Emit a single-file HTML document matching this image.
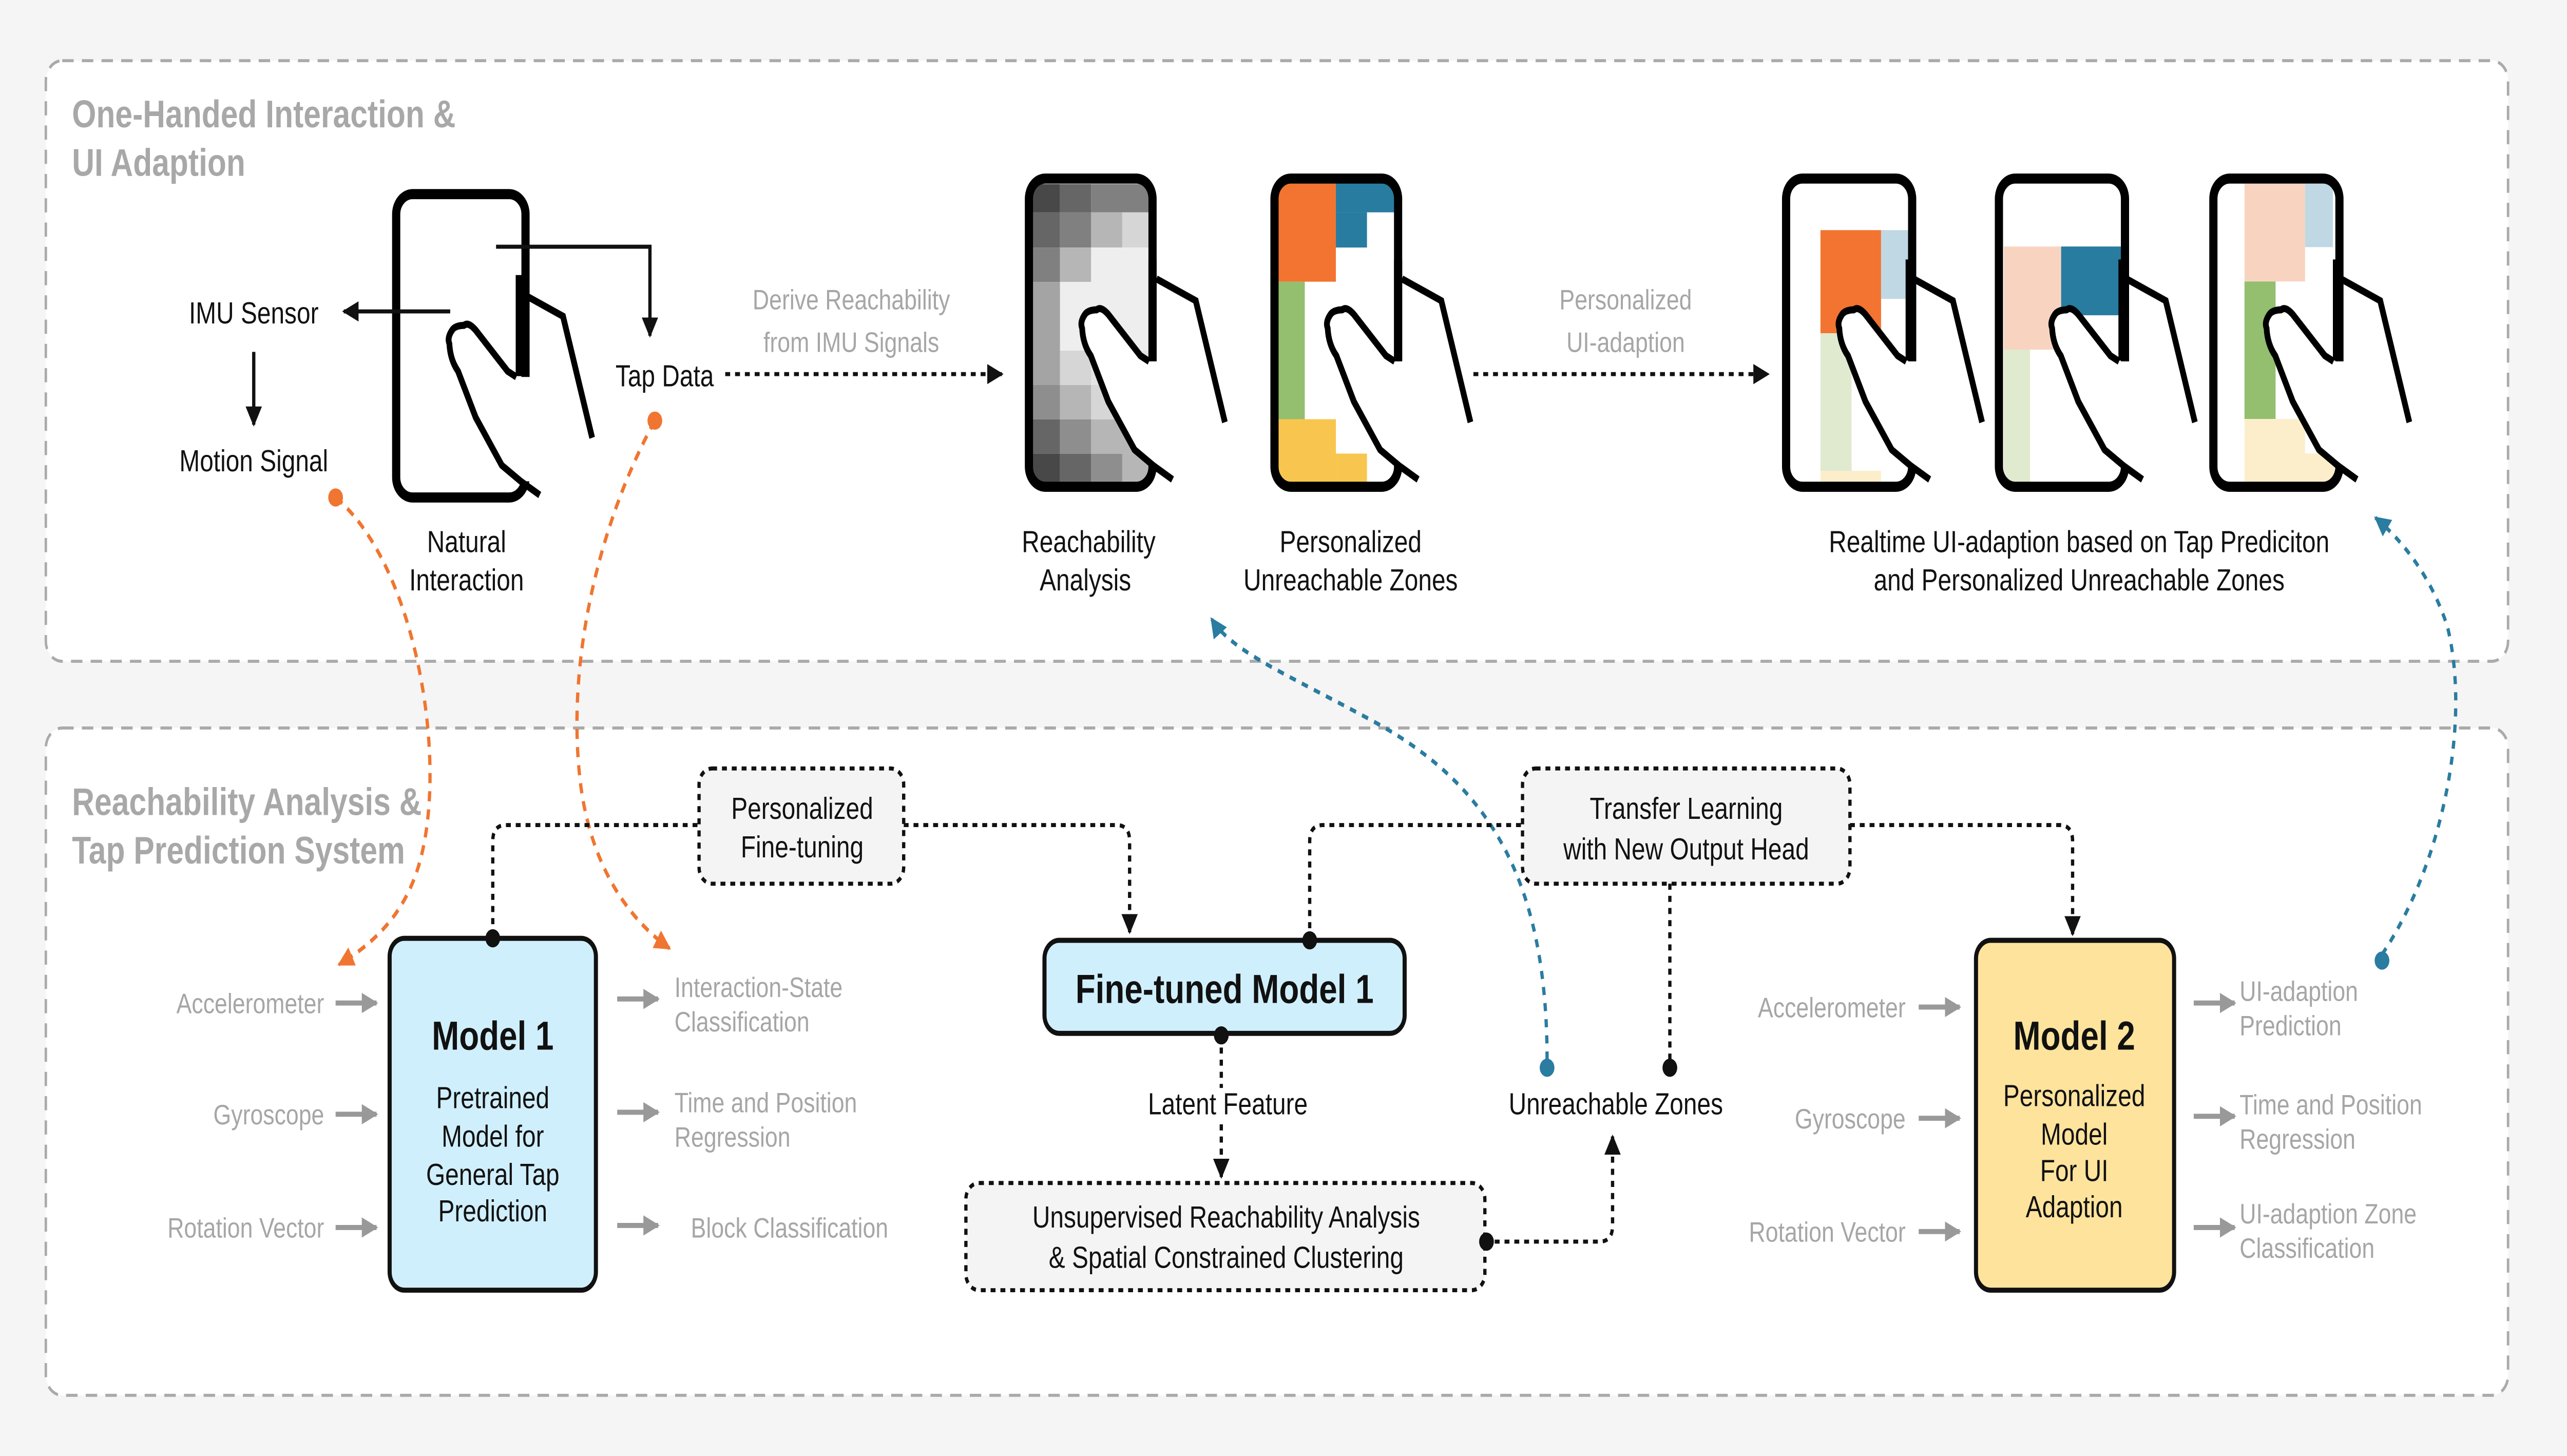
<!DOCTYPE html>
<html><head><meta charset="utf-8">
<style>
html,body{margin:0;padding:0;background:#f5f5f5;width:100%;height:100%;overflow:hidden;}
svg{display:block;width:100vw;height:100vh;position:fixed;left:0;top:0;}
text{font-family:"Liberation Sans",sans-serif;}
.b{fill:#111;font-size:15px;}
.g{fill:#a6a6a6;font-size:14px;}
.t{fill:#a8a8a8;font-size:19px;font-weight:bold;}
</style></head><body>
<svg viewBox="0 0 1568 720" preserveAspectRatio="none" xmlns="http://www.w3.org/2000/svg">
<defs>
<marker id="ab" viewBox="0 0 10 10" refX="9" refY="5" markerWidth="5" markerHeight="5" orient="auto"><path d="M0,0L10,5L0,10z" fill="#111"/></marker>
<marker id="ag" viewBox="0 0 10 10" refX="9" refY="5" markerWidth="4" markerHeight="5" orient="auto"><path d="M0,0L10,5L0,10z" fill="#999"/></marker>
<marker id="ao" viewBox="0 0 10 10" refX="9" refY="5" markerWidth="5" markerHeight="5" orient="auto"><path d="M0,0L10,5L0,10z" fill="#f07530"/></marker>
<marker id="abl" viewBox="0 0 10 10" refX="9" refY="5" markerWidth="5" markerHeight="5" orient="auto"><path d="M0,0L10,5L0,10z" fill="#2a7ca0"/></marker>
<g id="hand">
<path d="M73.4,90.4 L68.1,87.6 L48.5,67.2 Q44,63 41.4,64.9 Q36,65 34.2,67.2 Q31,71 32.5,74 Q33,82 37.8,87.6 L48.5,110.3 L64.5,134.1 L76.1,142 L82,142 L82,90.4 Z" fill="#fff"/>
<path d="M75.5,40 L75.5,90" stroke="#000" stroke-width="5" fill="none"/>
<path d="M73.4,90.4 L68.1,87.6 L48.5,67.2 Q44,63 41.4,64.9 Q36,65 34.2,67.2 Q31,71 32.5,74 Q33,82 37.8,87.6 L48.5,110.3 L64.5,134.1 L76.1,142 L87.7,148.8" stroke="#000" stroke-width="3.5" fill="none" stroke-linejoin="round"/>
<path d="M77.9,49.6 L101.9,60.4 L119.7,120.5" stroke="#000" stroke-width="3.5" fill="none"/>
</g>
<clipPath id="scr"><rect x="0" y="0" width="75.5" height="152.4" rx="10"/></clipPath>
</defs>
<rect x="0" y="0" width="1568" height="720" fill="#f5f5f5"/>
<rect x="28" y="30" width="1504" height="297" rx="10" fill="#ffffff" stroke="#aaa" stroke-width="1.5" stroke-dasharray="7 5"/>
<rect x="28" y="360" width="1504" height="330" rx="10" fill="#ffffff" stroke="#aaa" stroke-width="1.5" stroke-dasharray="7 5"/>
<text class="t" x="44" y="63">One-Handed Interaction &amp;</text>
<text class="t" x="44" y="87">UI Adaption</text>
<text class="t" x="44" y="403">Reachability Analysis &amp;</text>
<text class="t" x="44" y="427">Tap Prediction System</text>

<g transform="translate(242,96)">
<rect x="0" y="0" width="79" height="150" rx="10" fill="#fff" stroke="#000" stroke-width="5"/>
<use href="#hand"/>
</g>
<path d="M275,154 L210,154" stroke="#111" stroke-width="2" marker-end="url(#ab)"/>
<text class="b" x="155" y="160" text-anchor="middle">IMU Sensor</text>
<path d="M155,174 L155,210" stroke="#111" stroke-width="2" marker-end="url(#ab)"/>
<text class="b" x="155" y="233" text-anchor="middle">Motion Signal</text>
<path d="M303,122 L397,122 L397,166" stroke="#111" stroke-width="2" fill="none" marker-end="url(#ab)"/>
<text class="b" x="406" y="191" text-anchor="middle">Tap Data</text>
<text class="b" x="285" y="273" text-anchor="middle">Natural</text>
<text class="b" x="285" y="292" text-anchor="middle">Interaction</text>

<path d="M443,185 L612,185" stroke="#111" stroke-width="2" stroke-dasharray="3 3" marker-end="url(#ab)"/>
<text class="g" x="520" y="153" text-anchor="middle">Derive Reachability</text>
<text class="g" x="520" y="174" text-anchor="middle">from IMU Signals</text>

<g transform="translate(628.5,88.3)">
<g clip-path="url(#scr)">
<g transform="translate(0,2.7)">
<rect x="0" y="0" width="19" height="14" fill="#484848"/><rect x="19" y="0" width="19" height="14" fill="#666"/><rect x="38" y="0" width="40" height="14" fill="#808080"/>
<rect x="0" y="14" width="19" height="17.4" fill="#666"/><rect x="19" y="14" width="19" height="17.4" fill="#808080"/><rect x="38" y="14" width="19" height="17.4" fill="#b6b6b6"/><rect x="57" y="14" width="21" height="17.4" fill="#d6d6d6"/>
<rect x="0" y="31.4" width="19" height="17" fill="#808080"/><rect x="19" y="31.4" width="19" height="17" fill="#b6b6b6"/><rect x="38" y="31.4" width="40" height="17" fill="#eee"/>
<rect x="0" y="48.4" width="19" height="34" fill="#a4a4a4"/><rect x="19" y="48.4" width="59" height="34" fill="#eee"/>
<rect x="0" y="82.4" width="19" height="17" fill="#a4a4a4"/><rect x="19" y="82.4" width="19" height="17" fill="#d6d6d6"/><rect x="38" y="82.4" width="40" height="17" fill="#e4e4e4"/>
<rect x="0" y="99.4" width="19" height="17" fill="#8e8e8e"/><rect x="19" y="99.4" width="19" height="17" fill="#b6b6b6"/><rect x="38" y="99.4" width="40" height="17" fill="#d6d6d6"/>
<rect x="0" y="116.4" width="19" height="17" fill="#666"/><rect x="19" y="116.4" width="19" height="17" fill="#8e8e8e"/><rect x="38" y="116.4" width="40" height="17" fill="#b6b6b6"/>
<rect x="0" y="133.4" width="19" height="20" fill="#484848"/><rect x="19" y="133.4" width="19" height="20" fill="#666"/><rect x="38" y="133.4" width="19" height="20" fill="#8e8e8e"/><rect x="57" y="133.4" width="21" height="20" fill="#b6b6b6"/>
</g></g>
<rect x="0" y="0" width="75.5" height="152.4" rx="10" fill="none" stroke="#000" stroke-width="5"/>
<use href="#hand"/>
</g>

<g transform="translate(778.5,88.3)">
<g clip-path="url(#scr)">
<rect x="0" y="0" width="76" height="153" fill="#fff"/>
<rect x="0" y="0" width="37.5" height="51" fill="#f27430"/>
<rect x="37.5" y="0" width="40" height="16.7" fill="#287ca0"/>
<rect x="37.5" y="16.7" width="19" height="17.4" fill="#287ca0"/>
<rect x="0" y="51" width="18.5" height="68" fill="#93bf6e"/>
<rect x="0" y="119" width="37.5" height="35" fill="#f8c64e"/>
<rect x="37.5" y="136" width="19" height="18" fill="#f8c64e"/>
</g>
<rect x="0" y="0" width="75.5" height="152.4" rx="10" fill="none" stroke="#000" stroke-width="5"/>
<use href="#hand"/>
</g>
<text class="b" x="665" y="273" text-anchor="middle">Reachability</text>
<text class="b" x="663" y="292" text-anchor="middle">Analysis</text>
<text class="b" x="825" y="273" text-anchor="middle">Personalized</text>
<text class="b" x="825" y="292" text-anchor="middle">Unreachable Zones</text>

<path d="M900,185 L1080,185" stroke="#111" stroke-width="2" stroke-dasharray="3 3" marker-end="url(#ab)"/>
<text class="g" x="993" y="153" text-anchor="middle">Personalized</text>
<text class="g" x="993" y="174" text-anchor="middle">UI-adaption</text>

<g transform="translate(1091,88.3)">
<rect x="0" y="0" width="77" height="152.4" rx="10" fill="#fff"/>
<rect x="21" y="25.5" width="37" height="51" fill="#f27430"/>
<rect x="58" y="25.5" width="17" height="34" fill="#bfd8e3"/>
<rect x="21" y="76.5" width="19" height="68" fill="#dfeacf"/>
<rect x="21" y="144.5" width="37" height="6" fill="#fdeecb"/>
<rect x="0" y="0" width="77" height="152.4" rx="10" fill="none" stroke="#000" stroke-width="5"/>
<use href="#hand"/>
</g>
<g transform="translate(1221,88.3)">
<rect x="0" y="0" width="77" height="152.4" rx="10" fill="#fff"/>
<rect x="3" y="33.6" width="35" height="51" fill="#f8d4c0"/>
<rect x="38" y="33.6" width="37" height="34" fill="#287ca0"/>
<rect x="3" y="84.6" width="16" height="66" fill="#dfeacf"/>
<rect x="0" y="0" width="77" height="152.4" rx="10" fill="none" stroke="#000" stroke-width="5"/>
<use href="#hand"/>
</g>
<g transform="translate(1352,88.3)">
<rect x="0" y="0" width="77" height="152.4" rx="10" fill="#fff"/>
<rect x="19" y="2.6" width="37" height="48.3" fill="#f8d4c0"/>
<rect x="56" y="2.6" width="17" height="31.3" fill="#bfd8e3"/>
<rect x="19" y="50.9" width="19" height="68" fill="#93bf6e"/>
<rect x="19" y="118.9" width="55" height="31" fill="#fdeecb"/>
<rect x="56" y="118.9" width="18" height="17" fill="#fff"/>
<rect x="0" y="0" width="77" height="152.4" rx="10" fill="none" stroke="#000" stroke-width="5"/>
<use href="#hand"/>
</g>
<text class="b" x="1270" y="273" text-anchor="middle">Realtime UI-adaption based on Tap Prediciton</text>
<text class="b" x="1270" y="292" text-anchor="middle">and Personalized Unreachable Zones</text>

<path d="M205,246 C255,280 275,380 255,430 C245,455 225,468 207,477" stroke="#f07530" stroke-width="2" fill="none" stroke-dasharray="5 4" marker-end="url(#ao)"/>
<circle cx="205" cy="246" r="4.5" fill="#f07530"/>
<path d="M400,208 C365,260 345,330 355,390 C362,430 385,455 409,469" stroke="#f07530" stroke-width="2" fill="none" stroke-dasharray="5 4" marker-end="url(#ao)"/>
<circle cx="400" cy="208" r="4.5" fill="#f07530"/>
<path d="M945,524 C945,430 905,385 835,355 C785,333 752,322 740,306" stroke="#2a7ca0" stroke-width="2" fill="none" stroke-dasharray="4 4" marker-end="url(#abl)"/>
<circle cx="945" cy="528" r="4.5" fill="#2a7ca0"/>
<path d="M1455,472 C1490,430 1510,360 1495,310 C1485,285 1468,268 1451,256" stroke="#2a7ca0" stroke-width="2" fill="none" stroke-dasharray="4 4" marker-end="url(#abl)"/>
<circle cx="1455" cy="475" r="4.5" fill="#2a7ca0"/>

<rect x="238" y="464" width="126" height="174" rx="9" fill="#d0effc" stroke="#111" stroke-width="2.5"/>
<text x="301" y="519" text-anchor="middle" font-size="20" font-weight="bold" fill="#111">Model 1</text>
<text class="b" x="301" y="548" text-anchor="middle">Pretrained</text>
<text class="b" x="301" y="567" text-anchor="middle">Model for</text>
<text class="b" x="301" y="586" text-anchor="middle">General Tap</text>
<text class="b" x="301" y="604" text-anchor="middle">Prediction</text>
<text class="g" x="198" y="501" text-anchor="end">Accelerometer</text>
<text class="g" x="198" y="556" text-anchor="end">Gyroscope</text>
<text class="g" x="198" y="612" text-anchor="end">Rotation Vector</text>
<path d="M205,496L230,496" stroke="#999" stroke-width="2.5" marker-end="url(#ag)"/>
<path d="M205,551L230,551" stroke="#999" stroke-width="2.5" marker-end="url(#ag)"/>
<path d="M205,607L230,607" stroke="#999" stroke-width="2.5" marker-end="url(#ag)"/>
<path d="M377,494L402,494" stroke="#999" stroke-width="2.5" marker-end="url(#ag)"/>
<path d="M377,550L402,550" stroke="#999" stroke-width="2.5" marker-end="url(#ag)"/>
<path d="M377,606L402,606" stroke="#999" stroke-width="2.5" marker-end="url(#ag)"/>
<text class="g" x="412" y="493">Interaction-State</text>
<text class="g" x="412" y="510">Classification</text>
<text class="g" x="412" y="550">Time and Position</text>
<text class="g" x="412" y="567">Regression</text>
<text class="g" x="422" y="612">Block Classification</text>

<path d="M301,463 L301,416 Q301,408 309,408 L427,408" stroke="#111" stroke-width="2" fill="none" stroke-dasharray="3 3"/>
<path d="M552,408 L682,408 Q690,408 690,416 L690,461" stroke="#111" stroke-width="2" fill="none" stroke-dasharray="3 3" marker-end="url(#ab)"/>
<circle cx="301" cy="464" r="4.5" fill="#111"/>
<rect x="427" y="380" width="125" height="57" rx="8" fill="#f4f4f4" stroke="#111" stroke-width="2" stroke-dasharray="3 3"/>
<text class="b" x="490" y="405" text-anchor="middle">Personalized</text>
<text class="b" x="490" y="424" text-anchor="middle">Fine-tuning</text>

<rect x="638" y="465" width="220" height="46" rx="9" fill="#d0effc" stroke="#111" stroke-width="2.5"/>
<text x="748" y="496" text-anchor="middle" font-size="20" font-weight="bold" fill="#111">Fine-tuned Model 1</text>
<path d="M800,465 L800,416 Q800,408 808,408 L930,408" stroke="#111" stroke-width="2" fill="none" stroke-dasharray="3 3"/>
<circle cx="800" cy="465" r="4.5" fill="#111"/>
<path d="M1130,408 L1258,408 Q1266,408 1266,416 L1266,462" stroke="#111" stroke-width="2" fill="none" stroke-dasharray="3 3" marker-end="url(#ab)"/>
<rect x="930" y="380" width="200" height="57" rx="8" fill="#f4f4f4" stroke="#111" stroke-width="2" stroke-dasharray="3 3"/>
<text class="b" x="1030" y="405" text-anchor="middle">Transfer Learning</text>
<text class="b" x="1030" y="425" text-anchor="middle">with New Output Head</text>
<path d="M1020,437 L1020,526" stroke="#111" stroke-width="2" stroke-dasharray="3 3"/>
<circle cx="1020" cy="528" r="4.5" fill="#111"/>
<text class="b" x="987" y="551" text-anchor="middle">Unreachable Zones</text>

<path d="M746,512 L746,538 M746,556 L746,582" stroke="#111" stroke-width="2" stroke-dasharray="3 3" marker-end="url(#ab)"/>
<circle cx="746" cy="512" r="4.5" fill="#111"/>
<text class="b" x="750" y="551" text-anchor="middle">Latent Feature</text>
<rect x="590" y="585" width="317" height="53" rx="8" fill="#f4f4f4" stroke="#111" stroke-width="2" stroke-dasharray="3 3"/>
<text class="b" x="749" y="607" text-anchor="middle">Unsupervised Reachability Analysis</text>
<text class="b" x="749" y="627" text-anchor="middle">&amp; Spatial Constrained Clustering</text>
<path d="M907,614 L977,614 Q985,614 985,606 L985,562" stroke="#111" stroke-width="2" fill="none" stroke-dasharray="3 3" marker-end="url(#ab)"/>
<circle cx="908" cy="614" r="4.5" fill="#111"/>

<rect x="1207" y="465" width="121" height="173" rx="9" fill="#fde39c" stroke="#111" stroke-width="2.5"/>
<text x="1267" y="519" text-anchor="middle" font-size="20" font-weight="bold" fill="#111">Model 2</text>
<text class="b" x="1267" y="547" text-anchor="middle">Personalized</text>
<text class="b" x="1267" y="566" text-anchor="middle">Model</text>
<text class="b" x="1267" y="584" text-anchor="middle">For UI</text>
<text class="b" x="1267" y="602" text-anchor="middle">Adaption</text>
<text class="g" x="1164" y="503" text-anchor="end">Accelerometer</text>
<text class="g" x="1164" y="558" text-anchor="end">Gyroscope</text>
<text class="g" x="1164" y="614" text-anchor="end">Rotation Vector</text>
<path d="M1172,498L1197,498" stroke="#999" stroke-width="2.5" marker-end="url(#ag)"/>
<path d="M1172,553L1197,553" stroke="#999" stroke-width="2.5" marker-end="url(#ag)"/>
<path d="M1172,609L1197,609" stroke="#999" stroke-width="2.5" marker-end="url(#ag)"/>
<path d="M1340,496L1365,496" stroke="#999" stroke-width="2.5" marker-end="url(#ag)"/>
<path d="M1340,552L1365,552" stroke="#999" stroke-width="2.5" marker-end="url(#ag)"/>
<path d="M1340,607L1365,607" stroke="#999" stroke-width="2.5" marker-end="url(#ag)"/>
<text class="g" x="1368" y="495">UI-adaption</text>
<text class="g" x="1368" y="512">Prediction</text>
<text class="g" x="1368" y="551">Time and Position</text>
<text class="g" x="1368" y="568">Regression</text>
<text class="g" x="1368" y="605">UI-adaption Zone</text>
<text class="g" x="1368" y="622">Classification</text>
</svg>
</body></html>
